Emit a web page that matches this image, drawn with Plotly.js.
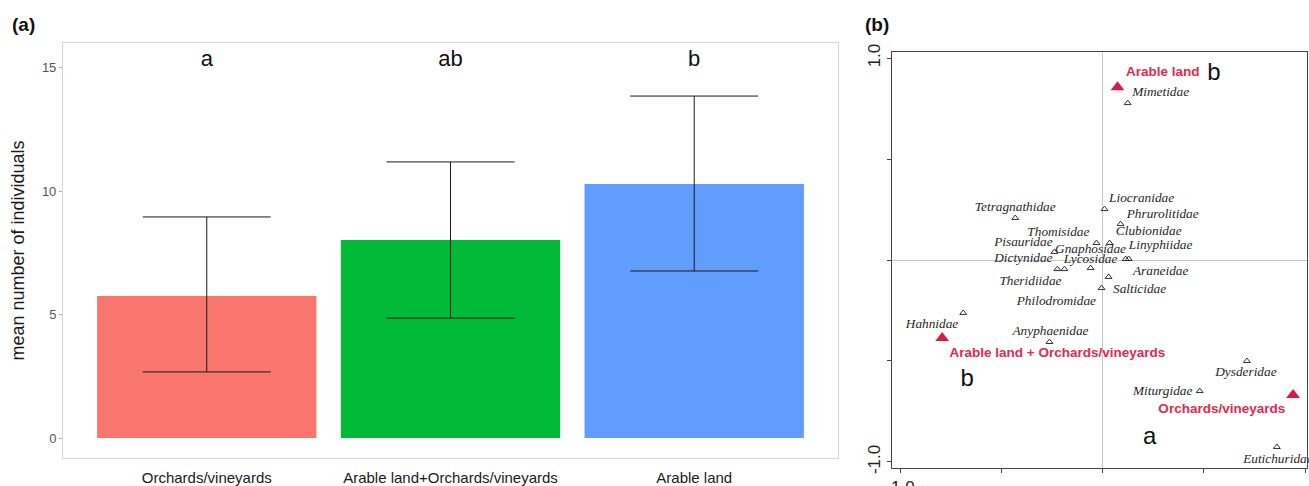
<!DOCTYPE html>
<html>
<head>
<meta charset="utf-8">
<script src="https://cdn.plot.ly/plotly-3.0.1.min.js"></script>
<style>html,body{margin:0;padding:0;background:#fff;}#chart{width:1309px;height:486px;}</style>
</head>
<body>
<div id="chart"></div>
<script>
// ---- Panel (a): mean number of individuals ----
const categories = ['Orchards/vineyards', 'Arable land+Orchards/vineyards', 'Arable land'];
const meanValues = [5.76, 8.03, 10.3];
const errUpper = [3.2, 3.16, 3.56];
const errLower = [3.08, 3.17, 3.53];
const groupLetters = ['a', 'ab', 'b'];
const barColors = ['#F8766D', '#00BA38', '#619CFF'];
const yTickValsA = [0, 5, 10, 15];

// ---- Panel (b): ordination ----
const familyNames = ['Mimetidae', 'Tetragnathidae', 'Liocranidae', 'Phrurolitidae', 'Clubionidae', 'Thomisidae',
  'Pisauridae', 'Gnaphosidae', 'Linyphiidae', 'Dictynidae', 'Lycosidae', 'Araneidae', 'Theridiidae',
  'Salticidae', 'Philodromidae', 'Hahnidae', 'Anyphaenidae', 'Dysderidae', 'Miturgidae', 'Eutichuridae'];
const familyX = [0.124, -0.431, 0.01, 0.089, 0.114, -0.03, -0.223, -0.238, 0.129, -0.188, -0.059, 0.03, 0.035,
  -0.005, null, -0.688, -0.262, 0.713, 0.48, 0.861];
const familyY = [0.777, 0.208, 0.252, 0.178, 0.005, 0.084, -0.045, 0.04, 0.005, -0.045, -0.04, -0.084, 0.084,
  -0.139, null, -0.262, -0.406, -0.5, -0.649, -0.926];
const familyLabelX = [0.287, -0.431, 0.193, 0.297, 0.228, -0.218, -0.391, -0.059, 0.287, -0.391, -0.059, 0.287,
  -0.356, 0.183, -0.228, -0.842, -0.257, 0.708, 0.297, 0.866];
const familyLabelY = [0.827, 0.257, 0.302, 0.223, 0.139, 0.134, 0.084, 0.05, 0.069, 0.005, 0.0, -0.059,
  -0.109, -0.149, -0.208, -0.322, -0.356, -0.559, -0.653, -0.99];

const siteNames = ['Arable land', 'Arable land + Orchards/vineyards', 'Orchards/vineyards'];
const siteX = [0.074, -0.792, 0.941];
const siteY = [0.856, -0.386, -0.668];
const siteLabelX = [0.297, -0.223, 0.589];
const siteLabelY = [0.926, -0.465, -0.743];
const siteLetters = ['b', 'b', 'a'];
const siteLetterX = [0.55, -0.668, 0.233];
const siteLetterY = [0.921, -0.594, -0.881];
const ordTickVals = [-1, -0.5, 0, 0.5, 1];
const ordTickText = ['-1.0', '', '', '', '1.0'];

const traces = [
  {
    type: 'bar', x: categories, y: meanValues, xaxis: 'x', yaxis: 'y',
    width: 0.9,
    marker: { color: barColors, line: { width: 0 } },
    error_y: { type: 'data', symmetric: false, array: errUpper, arrayminus: errLower,
      color: '#1a1a1a', thickness: 1, width: 64 },
    hoverinfo: 'x+y'
  },
  {
    type: 'scatter', mode: 'text', x: categories, y: categories.map(() => 15.3),
    text: groupLetters, xaxis: 'x', yaxis: 'y',
    textfont: { family: 'Liberation Sans, Arial, sans-serif', size: 22, color: '#111' },
    hoverinfo: 'skip', cliponaxis: false
  },
  {
    type: 'scatter', mode: 'markers', x: familyX, y: familyY, xaxis: 'x2', yaxis: 'y2',
    marker: { symbol: 'triangle-up-open', size: 6, color: '#333', line: { width: 1, color: '#333' } },
    text: familyNames, hoverinfo: 'text'
  },
  {
    type: 'scatter', mode: 'text', x: familyLabelX, y: familyLabelY, text: familyNames,
    xaxis: 'x2', yaxis: 'y2', cliponaxis: false,
    textfont: { family: 'Liberation Serif, Times New Roman, serif', size: 13.3, color: '#262626', style: 'italic' },
    hoverinfo: 'skip'
  },
  {
    type: 'scatter', mode: 'markers', x: siteX, y: siteY, xaxis: 'x2', yaxis: 'y2',
    marker: { symbol: 'triangle-up', size: 12, color: '#d81b46' },
    text: siteNames, hoverinfo: 'text', cliponaxis: false
  },
  {
    type: 'scatter', mode: 'text', x: siteLabelX, y: siteLabelY, text: siteNames,
    xaxis: 'x2', yaxis: 'y2', cliponaxis: false,
    textfont: { family: 'Liberation Sans, Arial, sans-serif', size: 13.5, color: '#e2294f', weight: 700 },
    hoverinfo: 'skip'
  },
  {
    type: 'scatter', mode: 'text', x: siteLetterX, y: siteLetterY, text: siteLetters,
    xaxis: 'x2', yaxis: 'y2', cliponaxis: false,
    textfont: { family: 'Liberation Sans, Arial, sans-serif', size: 24, color: '#111' },
    hoverinfo: 'skip'
  }
];

const layout = {
  width: 1309, height: 486,
  margin: { l: 0, r: 0, t: 0, b: 0 },
  paper_bgcolor: '#ffffff', plot_bgcolor: '#ffffff',
  showlegend: false,
  font: { family: 'Liberation Sans, Arial, sans-serif' },
  xaxis: {
    domain: [0.0481, 0.6402], range: [-0.59, 2.59], anchor: 'y',
    showline: true, mirror: true, linecolor: '#d6d6d6', linewidth: 1,
    ticks: 'outside', ticklen: 6, tickcolor: 'rgba(0,0,0,0)',
    tickfont: { size: 15, color: '#1a1a1a' },
    showgrid: false, zeroline: false, fixedrange: true
  },
  yaxis: {
    domain: [0.0576, 0.9115], range: [-0.81, 16.01], anchor: 'x',
    tickvals: yTickValsA,
    showline: true, mirror: true, linecolor: '#d6d6d6', linewidth: 1,
    ticks: 'outside', ticklen: 3, tickcolor: '#b0b0b0',
    tickfont: { size: 13, color: '#555' },
    showgrid: false, zeroline: false, fixedrange: true,
    title: { text: 'mean number of individuals', font: { size: 18, color: '#1a1a1a' }, standoff: 12 }
  },
  xaxis2: {
    domain: [0.6814, 0.9985], range: [-1.04, 1.01], anchor: 'y2',
    tickvals: ordTickVals, ticktext: ordTickText,
    showline: true, mirror: true, linecolor: '#444', linewidth: 1,
    ticks: 'outside', ticklen: 4, tickcolor: '#444',
    tickfont: { size: 17, color: '#222' },
    showgrid: false, zeroline: true, zerolinecolor: '#c8c8c8', zerolinewidth: 1, fixedrange: true
  },
  yaxis2: {
    domain: [0.037, 0.893], range: [-1.03, 1.03], anchor: 'x2',
    tickvals: ordTickVals, ticktext: ordTickText, tickangle: -90,
    showline: true, mirror: true, linecolor: '#444', linewidth: 1,
    ticks: 'outside', ticklen: 4, tickcolor: '#444',
    tickfont: { size: 17, color: '#222' },
    showgrid: false, zeroline: true, zerolinecolor: '#c8c8c8', zerolinewidth: 1, fixedrange: true
  },
  annotations: [
    { text: '<b>(a)</b>', xref: 'paper', yref: 'paper', x: 0.0176, y: 0.9486, showarrow: false,
      font: { size: 19, color: '#111' }, xanchor: 'center', yanchor: 'middle' },
    { text: '<b>(b)</b>', xref: 'paper', yref: 'paper', x: 0.670, y: 0.9486, showarrow: false,
      font: { size: 19, color: '#111' }, xanchor: 'center', yanchor: 'middle' }
  ]
};

Plotly.newPlot('chart', traces, layout, { displayModeBar: false, staticPlot: true });
</script>
</body>
</html>
